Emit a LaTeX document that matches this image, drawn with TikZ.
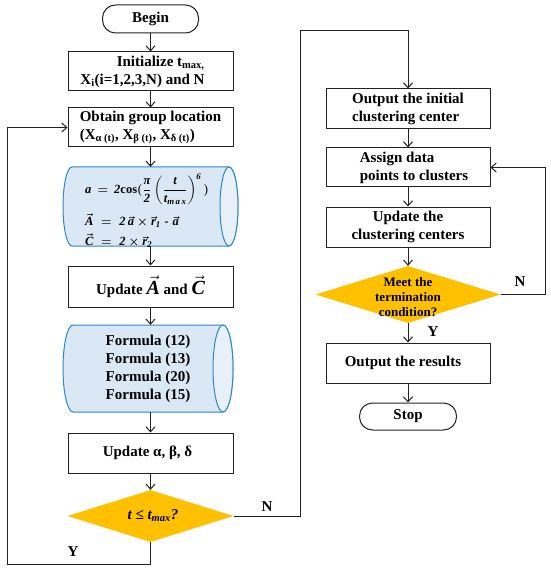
\documentclass[tikz,border=0pt]{standalone}
\usepackage{amsmath}
\usepackage{fontspec}
\setmainfont{Liberation Serif}
\usetikzlibrary{arrows.meta,shapes.geometric,calc}
\definecolor{cylbody}{HTML}{DAE8F6}
\definecolor{cylend}{HTML}{E8F1FA}
\definecolor{cylline}{HTML}{2E86C9}
\definecolor{decfill}{HTML}{FFC000}
\definecolor{ink}{HTML}{222222}
\newcommand{\mi}[1]{\text{\bfseries\itshape #1}}
\begin{document}
\begin{tikzpicture}[x=1pt,y=-1pt,
  font=\bfseries\fontsize{15}{18}\selectfont,
  box/.style={draw=ink, line width=1pt, fill=white, inner sep=0pt, minimum width=165pt},
  term/.style={draw=ink, line width=1pt, rounded corners=13pt, inner sep=0pt},
  dec/.style={diamond, fill=decfill, draw=none, inner sep=0pt},
  cyl/.style={fill=cylbody, draw=cylline, line width=1pt},
  cylcap/.style={fill=cylend, draw=cylline, line width=1pt},
  arr/.style={draw=ink, line width=1pt, -{Straight Barb[length=5pt,width=9pt]}},
  lbl/.style={inner sep=0pt},
  fml/.style={inner sep=0pt, anchor=west, font=\mathversion{bold}\bfseries\fontsize{12.5}{14}\selectfont}]
\useasboundingbox (0,0) rectangle (550,569);

% ---------------- left column ----------------
\node[term, minimum width=96pt, minimum height=28pt] (begin) at (150.5,19) {Begin};
\node[box, minimum height=39pt, align=right] (init) at (150.5,71.5)
  {Initialize t\textsubscript{max,}\hspace*{16pt}\\X\textsubscript{i}(i=1,2,3,N) and N\hspace*{16pt}};
\node[box, minimum height=39pt, align=left] (obtain) at (150.5,127.5)
  {Obtain group location\\(X\textsubscript{α (t)}, X\textsubscript{β (t)}, X\textsubscript{δ (t)})};

% cylinder 1
\path[cyl] (72,167) -- (229,167) arc[start angle=90, end angle=-90, x radius=9pt, y radius=39.5pt]
  -- (72,246) arc[start angle=270, end angle=90, x radius=9pt, y radius=39.5pt] -- cycle;
\path[cylcap] (229,206.5) ellipse[x radius=9pt, y radius=39.5pt];
\node[inner sep=0pt, minimum width=175pt, minimum height=79pt] (cyl1) at (150.5,206.5) {};
\node[fml] (f1) at (85,189)
  {$\mi{a}\,=\,\mi{2}\text{cos}(\dfrac{\mi{π}}{\mi{2}}\left(\dfrac{\mi{t}}{\mi{t}_{\mi{m\,a\,x}}}\right)^{\mi{6}}\,)$};
\node[fml] (f2) at (85,221) {$\vec{\mi{A}}\;=\;\mi{2}\,\vec{\mi{a}}\times\vec{\mi{r}}_{\mi{1}}\;\mi{-}\;\vec{\mi{a}}$};
\node[fml] (f3) at (85,241) {$\vec{\mi{C}}\;=\;\mi{2}\times\vec{\mi{r}}_{\mi{2}}$};

\node[box, minimum height=41pt] (updAC) at (150.5,286.5)
  {Update {\fontsize{20}{20}\selectfont$\vec{\mi{A}}$} and {\fontsize{20}{20}\selectfont$\vec{\mi{C}}$}};

% cylinder 2
\path[cyl] (73,325) -- (223,325) arc[start angle=90, end angle=-90, x radius=10pt, y radius=43.5pt]
  -- (73,412) arc[start angle=270, end angle=90, x radius=10pt, y radius=43.5pt] -- cycle;
\path[cylcap] (223,368.5) ellipse[x radius=10pt, y radius=43.5pt];
\node[inner sep=0pt, minimum width=170pt, minimum height=87pt, align=center] (cyl2) at (148,368.5)
  {Formula (12)\\Formula (13)\\Formula (20)\\Formula (15)};

\node[box, minimum height=40pt] (upd) at (150.5,453) {Update α, β, δ\hspace*{6pt}};

\node[dec, minimum width=166pt, minimum height=52pt] (q1) at (150.5,516) {};
\node[lbl] (q1t) at (153,516) {\itshape t ≤ t\textsubscript{max}?};

% ---------------- right column ----------------
\node[box, minimum width=164pt, minimum height=40pt, align=left] (outinit) at (408,109)
  {Output the initial\\clustering center};
\node[box, minimum width=164pt, minimum height=39pt, align=left] (assign) at (408,167.5)
  {\hspace*{12pt}Assign data\\\hspace*{12pt}points to clusters};
\node[box, minimum width=164pt, minimum height=40pt, align=center] (updc) at (408,227)
  {Update the\\clustering centers};
\node[dec, minimum width=185pt, minimum height=57pt] (q2) at (408,294.5) {};
\node[lbl, align=center, font=\bfseries\fontsize{13}{15}\selectfont] (q2t) at (408,297)
  {Meet the\\termination\\condition?};
\node[box, minimum width=164pt, minimum height=40pt] (outres) at (408,363)
  {Output the results\hspace*{10pt}};
\node[term, minimum width=97pt, minimum height=27pt] (stop) at (408,416.5) {Stop};

% ---------------- connectors ----------------
\draw[arr] (begin) -- (init);
\draw[arr] (init) -- (obtain);
\draw[arr] (obtain) -- (obtain |- cyl1.north);
\draw[arr] (obtain |- cyl1.south) -- (updAC);
\draw[arr] (updAC) -- (updAC |- cyl2.north);
\draw[arr] (updAC |- cyl2.south) -- (upd);
\draw[arr] (upd) -- (q1);

\coordinate (ycorner) at (7,564);
\draw[arr] (q1.south) |- (ycorner) |- (obtain.west);
\node[lbl] (ylab) at (73,552) {Y};

\coordinate (ncorner) at (300,31);
\draw[arr] (q1.east) -| (ncorner) -| (outinit.north);
\node[lbl] (nlab) at (267,507) {N};

\draw[arr] (outinit) -- (assign);
\draw[arr] (assign) -- (updc);
\draw[arr] (updc) -- (q2);
\draw[arr] (q2) -- (outres);
\draw[arr] (outres) -- (stop);

\coordinate (ncorner2) at (545,294.5);
\draw[arr] (q2.east) -- (ncorner2) |- (assign.east);
\node[lbl] (nlab2) at (520,282) {N};
\node[lbl] (ylab2) at (433,332) {Y};
\end{tikzpicture}
\end{document}
